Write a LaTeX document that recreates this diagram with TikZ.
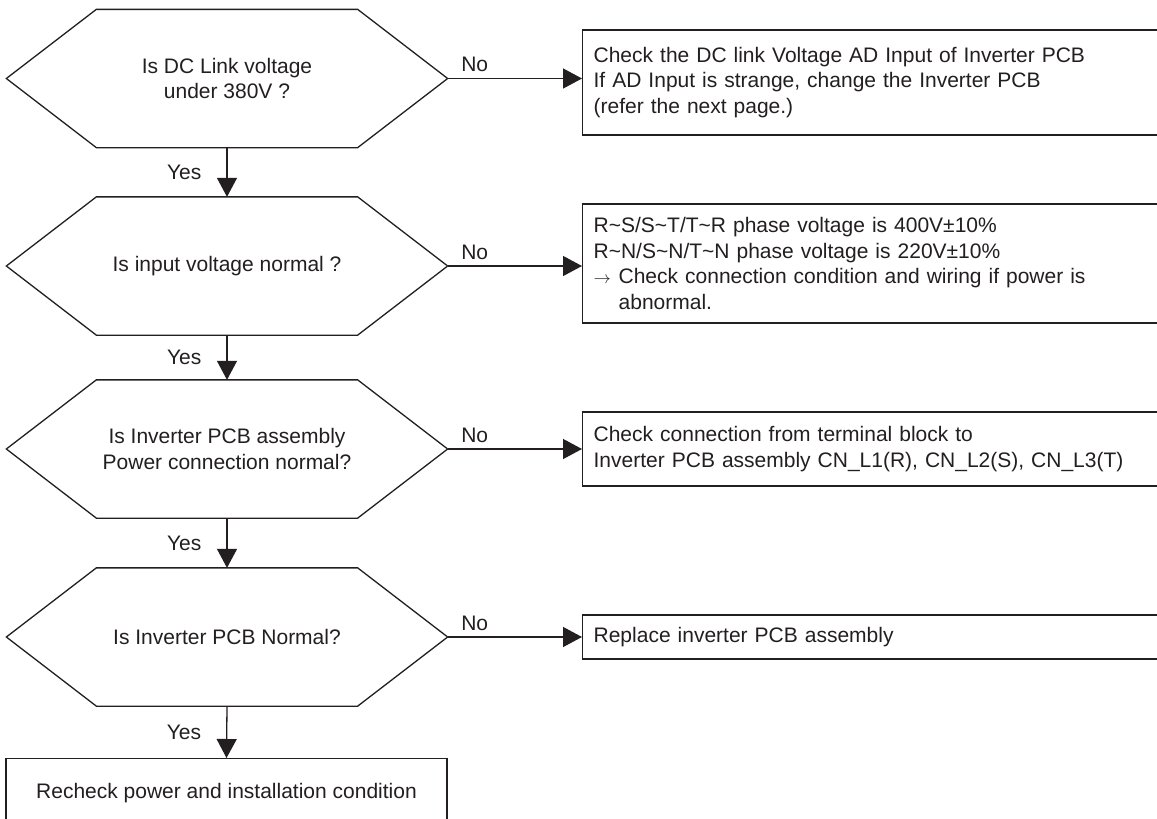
\documentclass[tikz,border=0pt]{standalone}
\usepackage{fontspec}
\setmainfont{Liberation Sans}
\usetikzlibrary{arrows.meta}
\definecolor{ink}{RGB}{35,31,32}
\begin{document}
\begin{tikzpicture}[x=1pt,y=-1pt,
  font=\fontsize{21}{25.5}\selectfont,
  line width=1.3pt, draw=ink, text=ink,
  hex/.style={inner sep=0pt, minimum width=440pt, minimum height=137pt, align=center},
  msg/.style={draw, anchor=west, align=left, text width=620pt, inner xsep=11pt, inner ysep=0pt},
  arr/.style={-{Triangle[length=19pt,width=20pt]}},
  yes/.style={midway, left=25pt, inner sep=0pt},
  no/.style={pos=0, anchor=south west, inner sep=0pt, xshift=13pt, yshift=6pt}]
\clip (0,0) rectangle (1157,819);
\fill[white] (0,0) rectangle (1157,819);

% decisions
\node[hex] (h1) at (227,78.5) {Is DC Link voltage\\under 380V ?};
\node[hex] (h2) at (227,266) {Is input voltage normal ?};
\node[hex] (h3) at (227,449) {Is Inverter PCB assembly\\Power connection normal?};
\node[hex] (h4) at (227,637) {Is Inverter PCB Normal?};
\foreach \n in {h1,h2,h3,h4}
  \draw (\n.west) -- ([xshift=90pt]\n.north west) -- ([xshift=-90pt]\n.north east)
        -- (\n.east) -- ([xshift=-90pt]\n.south east) -- ([xshift=90pt]\n.south west) -- cycle;

% actions
\node[msg, minimum height=105pt] (b1) at (582,82.5)
  {Check the DC link Voltage AD Input of Inverter PCB\\
   If AD Input is strange, change the Inverter PCB\\
   (refer the next page.)};
\node[msg, minimum height=119pt] (b2) at (582,263.5)
  {R\textasciitilde S/S\textasciitilde T/T\textasciitilde R phase voltage is 400V±10\%\\
   R\textasciitilde N/S\textasciitilde N/T\textasciitilde N phase voltage is 220V±10\%\\
   \makebox[25pt][l]{\fontsize{17}{17}\selectfont$\rightarrow$}Check connection condition and wiring if power is\\
   \hspace*{25pt}abnormal.};
\node[msg, minimum height=74pt] (b3) at (582,449)
  {Check connection from terminal block to\\
   Inverter PCB assembly CN\_L1(R), CN\_L2(S), CN\_L3(T)};
\node[msg, minimum height=44pt] (b4) at (582,637)
  {Replace inverter PCB assembly};
\node[draw, anchor=north, minimum width=441pt, minimum height=68pt, inner sep=0pt] (b5) at (226.5,758)
  {Recheck power and installation condition};

% connectors
\draw[arr] (h1.east) -- (h1.east -| b1.west) node[no] {No};
\draw[arr] (h2.east) -- (h2.east -| b2.west) node[no] {No};
\draw[arr] (h3.east) -- (h3.east -| b3.west) node[no] {No};
\draw[arr] (h4.east) -- (h4.east -| b4.west) node[no] {No};
\draw[arr] (h1.south) -- (h2.north) node[yes] {Yes};
\draw[arr] (h2.south) -- (h3.north) node[yes] {Yes};
\draw[arr] (h3.south) -- (h4.north) node[yes] {Yes};
\draw[arr] (h4.south) -- (b5.north) node[yes] {Yes};
\end{tikzpicture}
\end{document}
